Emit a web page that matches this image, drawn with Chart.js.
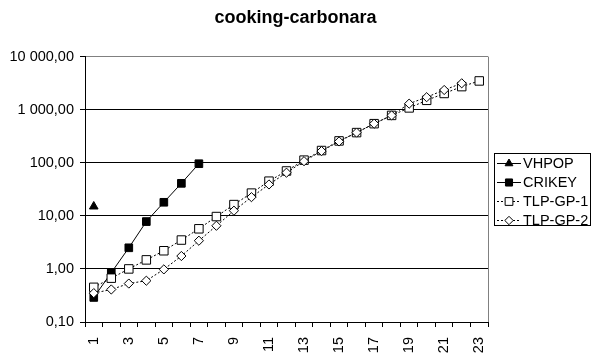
<!DOCTYPE html>
<html>
<head>
<meta charset="utf-8">
<title>cooking-carbonara</title>
<script src="https://cdn.jsdelivr.net/npm/chart.js@4.4.0/dist/chart.umd.min.js"></script>
<style>
    html, body { margin: 0; padding: 0; background: #fff; }
    canvas { display: block; }
</style>
</head>
<body>
<canvas id="chart" width="591" height="358"></canvas>
<script>
const steps = ['1', '2', '3', '4', '5', '6', '7', '8', '9', '10', '11', '12',
               '13', '14', '15', '16', '17', '18', '19', '20', '21', '22', '23'];
const vhpop = [15];
const crikey = [0.29, 0.85, 2.5, 7.8, 18, 41, 96];
const tlpGp1 = [0.45, 0.67, 1.0, 1.48, 2.2, 3.5, 5.7, 9.7, 16.3, 26.8, 45, 70,
                112, 170, 258, 370, 545, 780, 1080, 1500, 2020, 2720, 3480];
const tlpGp2 = [0.35, 0.41, 0.53, 0.6, 0.98, 1.75, 3.4, 6.5, 12.5, 22.5, 39, 65,
                107, 166, 252, 370, 545, 780, 1300, 1720, 2350, 3140];
const yTicks = [0.1, 1, 10, 100, 1000, 10000];

const FONT = "'Liberation Sans', Arial, sans-serif";

// 1234.5 -> "1 234,50"
const fmtNum = (v) => {
    const [int, dec] = v.toFixed(2).split('.');
    return int.replace(/\B(?=(\d{3})+(?!\d))/g, ' ') + ',' + dec;
};

const drawMarker = (ctx, style, x, y, r, fill) => {
    ctx.beginPath();
    if (style === 'rect') {
        const s = r * Math.SQRT1_2;
        ctx.rect(x - s, y - s, s * 2, s * 2);
    } else if (style === 'rectRot') {
        ctx.moveTo(x, y - r);
        ctx.lineTo(x + r, y);
        ctx.lineTo(x, y + r);
        ctx.lineTo(x - r, y);
        ctx.closePath();
    } else if (style === 'triangle') {
        const h = r * Math.sqrt(3) / 2;
        ctx.moveTo(x, y - r);
        ctx.lineTo(x + h, y + r / 2);
        ctx.lineTo(x - h, y + r / 2);
        ctx.closePath();
    }
    ctx.fillStyle = fill;
    ctx.fill();
    ctx.lineWidth = 1;
    ctx.strokeStyle = '#000';
    ctx.stroke();
};

// plot frame: grey right edge
const frame = {
    id: 'frame',
    beforeDatasetsDraw(chart) {
        const { ctx, chartArea: a } = chart;
        ctx.save();
        ctx.strokeStyle = '#808080';
        ctx.lineWidth = 1;
        ctx.beginPath();
        ctx.moveTo(Math.round(a.right) + 0.5, a.top);
        ctx.lineTo(Math.round(a.right) + 0.5, a.bottom);
        ctx.stroke();
        ctx.restore();
    }
};

// boxed legend with line samples on the right
const sideLegend = {
    id: 'sideLegend',
    afterDraw(chart) {
        const ctx = chart.ctx;
        const box = { x: 494.5, y: 153.5, w: 96, h: 72 };
        ctx.save();
        ctx.strokeStyle = '#000';
        ctx.lineWidth = 1;
        ctx.strokeRect(box.x, box.y, box.w, box.h);
        ctx.font = `14.5px ${FONT}`;
        ctx.textBaseline = 'middle';
        chart.data.datasets.forEach((ds, i) => {
            const y = Math.round(163 + i * 19) + 0.5;
            ctx.beginPath();
            ctx.setLineDash(ds.borderDash || []);
            ctx.moveTo(497, y);
            ctx.lineTo(521, y);
            ctx.strokeStyle = '#000';
            ctx.stroke();
            ctx.setLineDash([]);
            drawMarker(ctx, ds.pointStyle, 509, y, ds.legendRadius, ds.pointBackgroundColor);
            ctx.fillStyle = '#000';
            ctx.fillText(ds.label, 523, y);
        });
        ctx.restore();
    }
};

new Chart(document.getElementById('chart'), {
    type: 'line',
    data: {
        labels: steps,
        datasets: [
            { label: 'VHPOP', data: vhpop, order: 3, showLine: false,
              pointStyle: 'triangle', pointRadius: 5, legendRadius: 4.5,
              pointBackgroundColor: '#000', pointBorderColor: '#000', borderColor: '#000' },
            { label: 'CRIKEY', data: crikey, order: 2, borderWidth: 1,
              pointStyle: 'rect', pointRadius: 5.4, legendRadius: 5,
              pointBackgroundColor: '#000', pointBorderColor: '#000', borderColor: '#000' },
            { label: 'TLP-GP-1', data: tlpGp1, order: 1, borderWidth: 1, borderDash: [2, 2],
              pointStyle: 'rect', pointRadius: 6, legendRadius: 5.5,
              pointBackgroundColor: '#fff', pointBorderColor: '#000', borderColor: '#000' },
            { label: 'TLP-GP-2', data: tlpGp2, order: 0, borderWidth: 1, borderDash: [2, 2],
              pointStyle: 'rectRot', pointRadius: 4.6, legendRadius: 4.2,
              pointBackgroundColor: '#fff', pointBorderColor: '#000', borderColor: '#000' }
        ]
    },
    options: {
        responsive: false,
        animation: false,
        devicePixelRatio: 1,
        layout: { padding: 0 },
        elements: { line: { tension: 0, fill: false }, point: { borderWidth: 1 } },
        plugins: {
            legend: { display: false },
            tooltip: { enabled: false },
            title: {
                display: true,
                text: 'cooking-carbonara',
                color: '#000',
                font: { family: FONT, size: 18, weight: 'bold' },
                padding: { top: 7, bottom: 28 }
            }
        },
        scales: {
            x: {
                offset: true,
                grid: { offset: true, drawOnChartArea: false, drawTicks: true, tickLength: 5, color: '#000' },
                border: { display: true, color: '#000' },
                ticks: {
                    autoSkip: false,
                    minRotation: 90,
                    maxRotation: 90,
                    padding: 10,
                    color: '#000',
                    font: { family: FONT, size: 14.5 },
                    callback: function (val, i) {
                        return i % 2 === 0 ? this.getLabelForValue(val) : '';
                    }
                },
                afterFit: (scale) => { scale.height = 36; }
            },
            y: {
                type: 'logarithmic',
                min: 0.1,
                max: 10000,
                afterBuildTicks: (scale) => {
                    scale.ticks = yTicks.map(v => ({ value: v, major: true }));
                },
                grid: {
                    color: (c) => (c.tick && c.tick.value === 10000 ? '#808080' : '#000'),
                    tickColor: '#000',
                    tickLength: 5,
                    lineWidth: 1
                },
                border: { display: true, color: '#000' },
                ticks: {
                    padding: 6,
                    color: '#000',
                    font: { family: FONT, size: 14.5 },
                    callback: (v) => fmtNum(v)
                },
                afterFit: (scale) => { scale.width = 85; }
            },
            // empty right-hand axis that keeps room for the legend box
            legendSpace: {
                type: 'linear',
                position: 'right',
                grid: { display: false },
                border: { display: false },
                ticks: { display: false },
                afterFit: (scale) => { scale.width = 103; }
            }
        }
    },
    plugins: [frame, sideLegend]
});
</script>
</body>
</html>
